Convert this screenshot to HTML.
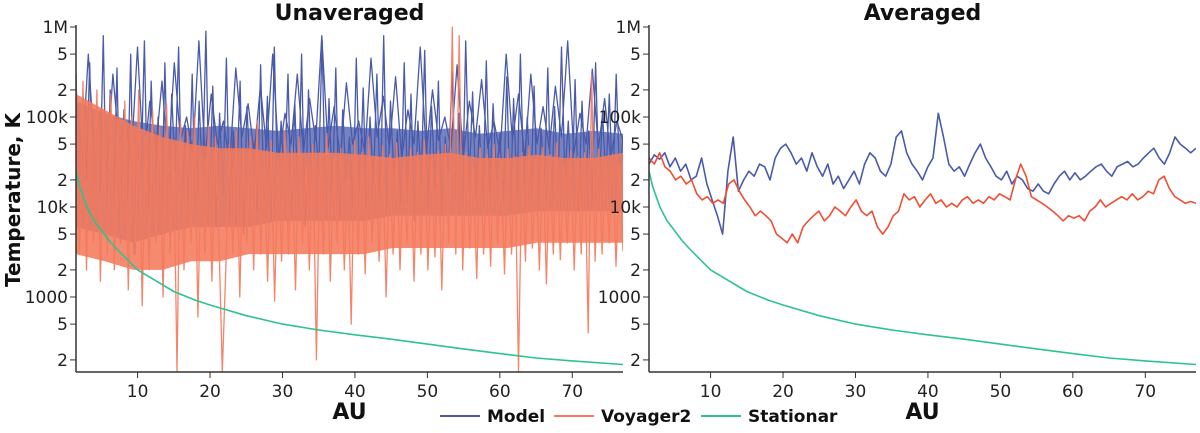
<!DOCTYPE html>
<html><head><meta charset="utf-8"><style>
body{margin:0;background:#fff;font-family:"Liberation Sans","DejaVu Sans",sans-serif}
svg text{font-family:"DejaVu Sans","Liberation Sans",sans-serif}
</style></head><body>
<svg id="c" width="1200" height="428"></svg>
<script>
// values in thousands of K
const modelRaw=[300,8,150,20,400,6,90,15,800,5,200,10,350,4,120,12,500,3,60,20,700,8,250,15,100,6,400,10,180,25,600,9,80,12,300,7,150,20,900,10,220,6,110,14,450,8,70,18,250,5,130,22,50,9,380,12,170,7,600,15,90,20,300,8,140,11,500,6,200,16,80,25,700,9,160,13,350,7,120,20,60,10,450,15,210,8,100,18,300,12,800,9,150,22,70,11,400,14,180,7,90,20,550,10,130,16,250,8,60,24,320,12,110,9,700,18,190,13,80,10,420,15,140,20,65,11,280,9,160,14,500,17,100,12,220,8,75,19,350,10,130,15,600,21,90,12,260,9,150,18,70,13,400,16,110,20,180,14,300,22,60];
const modelRaw2=[200,30,500,40,120,25,300,50,90,35,600,30,150,45,250,30,400,55,100,40,700,35,180,50,90,30,350,60,140,40,220,45,500,35,110,50,300,40,160,55,800,45,130,35,240,50,90,40,450,60,170,45,280,35,120,50,600,40,200,55,100,45,380,35,150,60,260,45,90,40,500,55,180,35,300,50,130,45,220,60,700,40,110,50,340,45,160,35,90,55];
const voyRaw=[300,3,250,2,150,4,200,1.5,120,3,180,2,90,5,150,1.2,100,3,200,0.8,60,2,120,4,80,1,140,3,50,0.15,90,2,70,4,100,0.6,40,3,80,1.5,60,5,0.15,2,50,3,70,1,45,4,60,2,90,3,40,1.5,55,0.9,35,2.5,70,3,45,1.2,60,4,30,2,50,0.2,40,3,65,1.5,35,4,45,2,30,0.5,55,3,40,1.8,60,4,35,2.5,48,1,38,3,52,2,30,4,45,1.5,40,3,55,2,35,2.8,42,1.2,50,4,1000,3,800,2,40,3.5,30,1.6,45,3,38,2.2,50,4,33,1.8,44,3,36,0.15,40,2.5,48,3.5,34,2,46,1.4,38,3,52,2.6,30,4,42,2,36,3,40,0.4,300,2.5,44,3,35,4,38,2.2,30,3.2];
const modelHi=[150,110,90,80,75,80,75,70,75,80,75,75,70,75,65,70,75,65,70,65];
const modelLo=[6,5,4,5,6,6,6,7,7,7,7,8,8,8,8,8,9,9,9,9];
const voyHi=[180,120,80,60,50,45,45,40,40,40,38,35,38,40,35,35,38,35,35,40];
const voyLo=[3,2.5,2,2,2.5,2.5,3,3,3,3,3,3.5,3.5,3.5,3.5,3.5,4,4,4,4];
const modelAvg=[30,38,34,40,28,35,25,30,20,22,35,18,12,8,5,25,60,15,20,25,22,30,28,20,35,45,50,40,30,35,25,40,28,22,30,18,22,16,20,25,18,30,40,35,25,22,30,60,70,40,30,25,20,28,35,110,60,30,25,28,22,30,40,50,35,28,22,20,25,18,22,20,16,15,18,15,14,18,22,25,20,24,20,22,25,28,30,25,22,28,30,32,28,30,35,40,45,35,30,40,60,50,45,40,45];
const voyAvg=[35,30,40,28,25,20,22,18,20,14,12,13,11,12,11,18,20,15,12,10,8,9,8,7,5,4.5,4,5,4,6,7,8,9,7,8,10,9,8,10,12,9,8,9,6,5,6,8,9,14,12,13,10,12,14,11,12,10,11,10,12,13,11,12,11,13,12,14,13,12,20,30,22,13,12,11,10,9,8,7,8,7.5,8,7,9,10,12,10,11,12,13,12,14,12,13,15,14,20,22,16,13,12,11,11.5,11];
const statAU=[1.5,2,3,4,5,6,7,8,10,12,15,18,20,25,30,35,40,45,50,55,60,65,70,77];
const statT=[25,17,10,7,5.5,4.3,3.5,2.9,2,1.6,1.15,0.92,0.815,0.62,0.5,0.43,0.38,0.34,0.3,0.265,0.235,0.21,0.195,0.178];
const yTickVals=[1000,500,200,100,50,20,10,5,2,1,0.5,0.2];
const yTickLabels=["1M","5","2","100k","5","2","10k","5","2","1000","5","2"];
const xTickVals=[10,20,30,40,50,60,70];
const AU0=1.5,AU1=77;
const NS="http://www.w3.org/2000/svg";
const svg=document.getElementById('c');
function mk(t,a,p){const e=document.createElementNS(NS,t);for(const k in a)e.setAttribute(k,a[k]);(p||svg).appendChild(e);return e;}
function yS(v){return 27+(3-Math.log10(v))*90;}
const BOT=372,TOP=20;
function panel(x0,x1,name,title,bands,series){
  const xS=au=>x0+(au-AU0)/(AU1-AU0)*(x1-x0);
  const ix=(i,n)=>AU0+i/(n-1)*(AU1-AU0);
  const g=mk('g',{});
  
  
  const cid='clip'+name;
  const cp=mk('clipPath',{id:cid},g);mk('rect',{x:x0,y:TOP,width:x1-x0,height:BOT-TOP},cp);
  const pg=mk('g',{'clip-path':'url(#'+cid+')'},g);
  const drawLine=(s,vals,nm)=>{
    let d='';
    vals.forEach((v,i)=>{const au=s.xs?s.xs[i]:ix(i,vals.length);d+=(i?'L':'M')+xS(au).toFixed(1)+','+yS(v).toFixed(1);});
    const p=mk('path',{d:d,fill:'none',stroke:s.c,'stroke-width':s.w,'stroke-opacity':s.o||1,'stroke-linejoin':'round'},pg);
    
    
  };
  series.forEach((s,k)=>{
    const b=bands[k];
    if(b){
      let d='';
      b.hi.forEach((v,i)=>{d+=(i?'L':'M')+xS(ix(i,b.hi.length)).toFixed(1)+','+yS(v).toFixed(1);});
      for(let i=b.lo.length-1;i>=0;i--)d+='L'+xS(ix(i,b.lo.length)).toFixed(1)+','+yS(b.lo[i]).toFixed(1);
      const p=mk('path',{d:d+'Z',fill:s.c,'fill-opacity':b.o},pg);
      
      
    }
    drawLine(s,s.vals,s.n);
    if(s.extra)drawLine(s,s.extra,s.n+'-spikes');
  });
  mk('line',{x1:x0,y1:TOP+5,x2:x0,y2:BOT,stroke:'#333','stroke-width':1.5},g);
  mk('line',{x1:x0,y1:BOT,x2:x1,y2:BOT,stroke:'#333','stroke-width':1.5},g);
  yTickVals.forEach((v,i)=>{const y=yS(v);mk('line',{x1:x0-6,y1:y,x2:x0,y2:y,stroke:'#333'},g);
    const t=mk('text',{x:x0-8,y:y+6,'text-anchor':'end','font-size':17,fill:'#222'},g);t.textContent=yTickLabels[i];
    
    });
  xTickVals.forEach(v=>{const x=xS(v);mk('line',{x1:x,y1:BOT,x2:x,y2:BOT+6,stroke:'#333'},g);
    const t=mk('text',{x:x,y:BOT+25,'text-anchor':'middle','font-size':17,fill:'#222'},g);t.textContent=v;
    
    });
  const tt=mk('text',{x:(x0+x1)/2,y:20,'text-anchor':'middle','font-size':22,'font-weight':'bold',fill:'#111'},g);tt.textContent=title;
  
  
  const ax=mk('text',{x:(x0+x1)/2,y:419,'text-anchor':'middle','font-size':22,'font-weight':'bold',fill:'#111'},g);ax.textContent='AU';
  
  
}
panel(76,623,'unaveraged-panel','Unaveraged',
 [{hi:modelHi,lo:modelLo,o:0.75},{hi:voyHi,lo:voyLo,o:0.88},null],[
 {vals:modelRaw,extra:modelRaw2,c:'#4a5aab',w:1.3,n:'model-unaveraged-line'},
 {vals:voyRaw,c:'#f47a5c',w:1.3,o:0.92,n:'voyager2-unaveraged-line'},
 {vals:statT,xs:statAU,c:'#2ec38e',w:1.6,n:'stationar-unaveraged-line'}]);
panel(649,1196,'averaged-panel','Averaged',[null,null,null],[
 {vals:modelAvg,c:'#4a5aab',w:1.6,n:'model-averaged-line'},
 {vals:voyAvg,c:'#f04e32',w:1.6,n:'voyager2-averaged-line'},
 {vals:statT,xs:statAU,c:'#2ec38e',w:1.6,n:'stationar-averaged-line'}]);
const yt=mk('text',{x:0,y:0,transform:'translate(20,200) rotate(-90)','text-anchor':'middle','font-size':20,'font-weight':'bold',fill:'#111'});
yt.textContent='Temperature, K';


const leg=[['Model','#4a5aab',440],['Voyager2','#f47a5c',554],['Stationar','#2ec38e',701]];
leg.forEach(l=>{const g=mk('g',{});
 
 
 mk('line',{x1:l[2],y1:416,x2:l[2]+40,y2:416,stroke:l[1],'stroke-width':2},g);
 const t=mk('text',{x:l[2]+47,y:422,'font-size':17,'font-weight':'bold',fill:'#111'},g);t.textContent=l[0];});
</script>
</body></html>
